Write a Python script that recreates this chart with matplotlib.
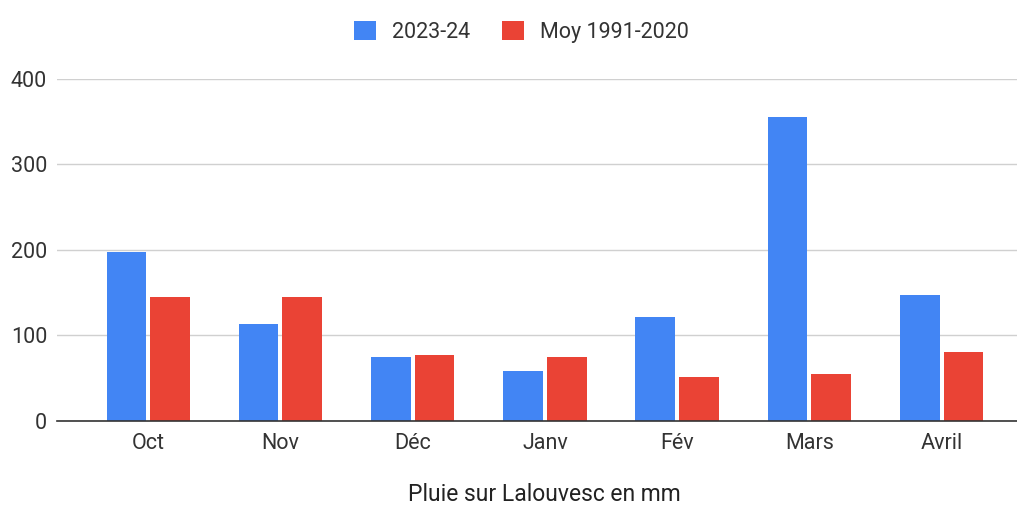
import matplotlib.pyplot as plt
import numpy as np

# Pluie mensuelle (mm) a Lalouvesc
months = ['Oct', 'Nov', 'Déc', 'Janv', 'Fév', 'Mars', 'Avril']
rain_2023_24 = [198, 113, 75, 58, 121, 356, 147]
rain_avg = [145, 145, 77, 75, 51, 55, 81]

plt.rcParams['font.family'] = ['Roboto', 'DejaVu Sans']
fs = 15.5

fig = plt.figure(figsize=(10.17, 5.09), dpi=100)
ax = fig.add_axes([0.056, 0.173, 0.944, 0.672])

x = np.arange(len(months))
w = 0.30
ax.bar(x - 0.165, rain_2023_24, w, color='#4285F4', label='2023-24', zorder=3)
ax.bar(x + 0.165, rain_avg, w, color='#EA4335', label='Moy 1991-2020', zorder=3)

ax.set_xlim(-0.69, 6.57)
ax.set_ylim(0, 400)
ax.set_yticks([0, 100, 200, 300, 400])
ax.set_xticks(x)
ax.set_xticklabels(months)
ax.tick_params(axis='both', length=0, labelsize=fs, labelcolor='#333333')
ax.tick_params(axis='x', pad=9)
ax.tick_params(axis='y', pad=7)
ax.grid(axis='y', color='#d0d0d0', linewidth=1, zorder=0)
for s in ['top', 'right', 'left']:
    ax.spines[s].set_visible(False)
ax.spines['bottom'].set_color('#333333')
ax.spines['bottom'].set_linewidth(1.2)
ax.spines['bottom'].set_zorder(4)

fig.legend(loc='center', bbox_to_anchor=(0.513, 0.937), ncol=2, frameon=False,
           fontsize=fs, handlelength=1.0, handleheight=1.0, columnspacing=1.5,
           handletextpad=0.75, labelcolor='#333333')

fig.text(0.535, 0.006, 'Pluie sur Lalouvesc en mm', ha='center', va='bottom',
         fontsize=16.5, color='#222222')

fig.savefig('out.png', dpi=100)
